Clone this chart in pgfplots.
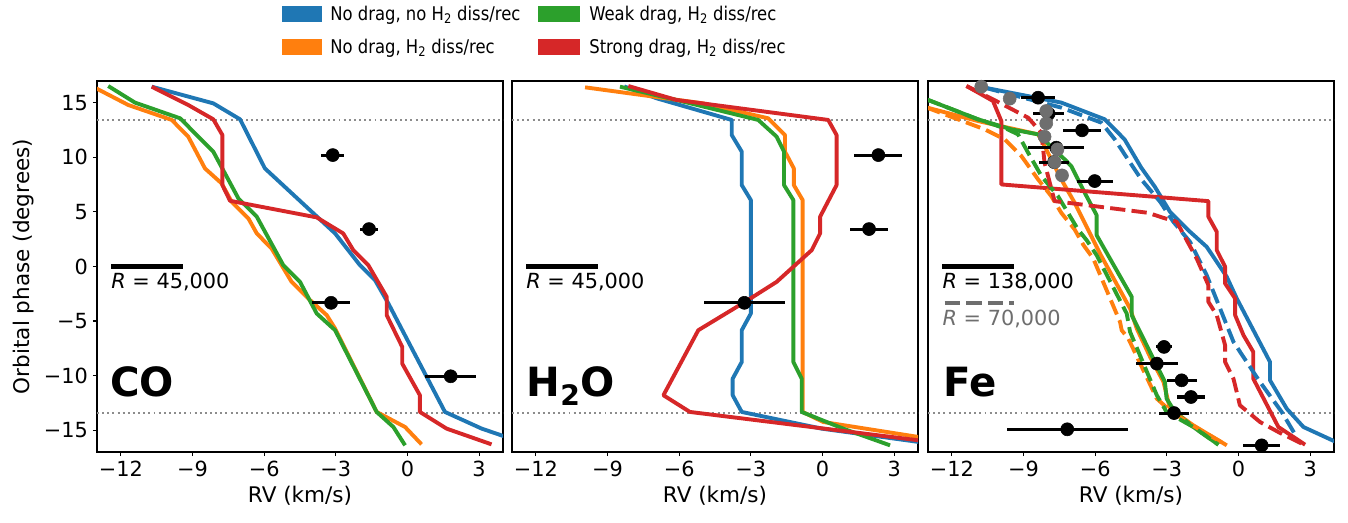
\documentclass[border=0pt]{standalone}
\usepackage{fontspec}
\setmainfont{DejaVu Sans}
\usepackage{graphicx}
\usepackage{pgfplots}
\pgfplotsset{compat=1.18}

\definecolor{tblue}{HTML}{1F77B4}
\definecolor{torange}{HTML}{FF7F0E}
\definecolor{tgreen}{HTML}{2CA02C}
\definecolor{tred}{HTML}{D62728}
\definecolor{tgrey}{HTML}{6E6E6E}
\definecolor{dotgrey}{HTML}{8C8C8C}

% legend text is a little narrower than the rest
\newcommand{\legtxt}[1]{\scalebox{0.87}[1]{#1}}

\pgfplotsset{
  panel/.style={
    at={(#1,51.12pt)}, anchor=south west,
    scale only axis, width=292.32pt, height=267.12pt,
    xmin=-13, xmax=4, ymin=-17, ymax=17,
    xtick={-12,-9,-6,-3,0,3},
    xticklabels={−12,−9,−6,−3,0,3},
    tick align=outside, tick pos=left,
    major tick length=3pt,
    tick style={black, line width=0.8pt},
    axis line style={line width=0.8pt},
    ticklabel style={font=\fontsize{15}{18}\selectfont},
    xlabel={RV (km/s)},
    label style={font=\fontsize{15.5}{18}\selectfont},
  },
  crv/.style={line width=2.8pt, line join=round, #1},
  dsh/.style={line width=2.8pt, line join=round, dash pattern=on 11pt off 4.5pt, #1},
  obs/.style={only marks, mark=*, mark size=4.7pt, color=black,
    error bars/.cd, x dir=both, x explicit,
    error mark=none, error bar style={line width=2.2pt, black}},
  sep/.style={dotgrey, line width=1.3pt, dash pattern=on 1.4pt off 2.3pt, forget plot},
}
\tikzset{
  tag/.style={anchor=base west, inner sep=0pt, font=\fontsize{29}{34}\selectfont\bfseries},
  rnote/.style={anchor=base west, inner sep=0pt, font=\fontsize{15}{18}\selectfont},
  legtext/.style={anchor=base west, inner sep=0pt, font=\fontsize{13.6}{16}\selectfont},
}

\begin{document}
\begin{tikzpicture}
\useasboundingbox (0,0) rectangle (970.56pt,376.56pt);

% ---------------- CO
\begin{axis}[panel=69.84pt,
  ytick={-15,-10,-5,0,5,10,15},
  yticklabels={−15,−10,−5,0,5,10,15},
  ylabel={Orbital phase (degrees)}]
\addplot[sep] coordinates {(-13,13.4) (4,13.4)};
\addplot[sep] coordinates {(-13,-13.4) (4,-13.4)};
\addplot[crv=tblue] coordinates {(-10.71,16.48) (-8.13,14.95) (-7.01,13.49) (-5.97,8.99) (-3.03,3.03) (-1.99,0.12) (-1.36,-1.25) (-0.80,-3.39) (1.57,-13.33) (3.11,-14.86) (4.1,-15.6)};
\addplot[crv=torange] coordinates {(-13.1,16.4) (-11.69,14.80) (-9.87,13.43) (-9.18,11.90) (-8.48,8.99) (-7.78,7.61) (-7.36,5.93) (-6.66,4.40) (-6.31,3.03) (-5.69,1.65) (-4.85,-1.41) (-4.15,-2.94) (-3.38,-4.46) (-3.03,-5.69) (-1.29,-13.33) (-0.1,-14.71) (0.59,-16.30)};
\addplot[crv=tgreen] coordinates {(-12.53,16.54) (-11.41,15.02) (-9.52,13.58) (-8.13,10.52) (-7.08,6.24) (-6.31,4.56) (-5.2,0.12) (-4.5,-1.41) (-3.8,-4.31) (-3.03,-5.84) (-1.29,-13.33) (-0.59,-14.71) (-0.1,-16.39)};
\addplot[crv=tred] coordinates {(-10.71,16.48) (-9.18,14.80) (-8.13,13.49) (-7.75,12.05) (-7.75,7.46) (-7.43,6.02) (-3.8,4.50) (-2.69,3.03) (-2.27,1.5) (-1.64,0.12) (-0.87,-2.78) (-0.87,-4.46) (-0.22,-7.37) (-0.22,-8.9) (0.52,-11.80) (0.52,-13.33) (1.64,-14.86) (3.52,-16.30)};
\addplot[forget plot, obs] coordinates {(-3.13,10.21) +- (0.49,0) (-1.61,3.43) +- (0.38,0) (-3.2,-3.33) +- (0.8,0) (1.81,-10.06) +- (1.08,0)};
\draw[line width=3pt] (axis cs:-12.41,0) -- (axis cs:-9.41,0);
\node[rnote] at (axis cs:-12.41,-2.02) {\textit{R} = 45,000};
\node[tag] at (axis cs:-12.46,-11.9) {CO};
\end{axis}

% ---------------- H2O
\begin{axis}[panel=368.64pt, ytick=\empty]
\addplot[sep] coordinates {(-13,13.4) (4,13.4)};
\addplot[sep] coordinates {(-13,-13.4) (4,-13.4)};
\addplot[crv=tblue] coordinates {(-8.3,16.5) (-6.94,15.41) (-3.8,13.43) (-3.8,12.05) (-3.38,10.52) (-3.38,7.46) (-3.0,6.09) (-3.0,-4.31) (-3.38,-5.84) (-3.38,-8.75) (-3.76,-10.28) (-3.76,-11.80) (-3.38,-13.33) (-0.03,-14.86) (4.1,-16.1)};
\addplot[crv=torange] coordinates {(-9.94,16.42) (-5.0,14.95) (-2.27,13.58) (-1.57,12.05) (-1.57,10.52) (-1.2,8.99) (-1.2,7.46) (-0.83,6.09) (-0.83,-13.33) (0.03,-14.25) (4.1,-15.65)};
\addplot[crv=tgreen] coordinates {(-8.48,16.48) (-6.0,15.2) (-2.69,13.43) (-1.92,11.90) (-1.61,10.52) (-1.61,7.46) (-1.22,6.09) (-1.22,-8.75) (-0.87,-10.28) (-0.87,-13.33) (0.87,-14.86) (2.83,-16.39)};
\addplot[crv=tred] coordinates {(-8.13,16.54) (-6.11,15.26) (0.24,13.43) (0.59,12.05) (0.59,7.46) (-0.1,4.56) (-0.1,3.03) (-0.45,1.50) (-1.92,-1.41) (-3.24,-3.24) (-5.2,-5.84) (-6.66,-11.80) (-5.55,-13.33) (4.1,-15.95)};
\addplot[forget plot, obs] coordinates {(2.34,10.21) +- (1.0,0) (1.95,3.43) +- (0.8,0) (-3.27,-3.33) +- (1.7,0)};
\draw[line width=3pt] (axis cs:-12.41,0) -- (axis cs:-9.41,0);
\node[rnote] at (axis cs:-12.41,-2.02) {\textit{R} = 45,000};
\node[tag] at (axis cs:-12.4,-11.9) {H\textsubscript{2}O};
\end{axis}

% ---------------- Fe
\begin{axis}[panel=668.16pt, ytick=\empty]
\addplot[sep] coordinates {(-13,13.4) (4,13.4)};
\addplot[sep] coordinates {(-13,-13.4) (4,-13.4)};
\addplot[crv=tblue] coordinates {(-10.63,16.39) (-7.42,15.02) (-5.6,13.49) (-4.77,11.65) (-4.07,9.05) (-3.5,7.3) (-2.87,5.02) (-2.03,3.18) (-1.33,1.8) (-0.49,-0.95) (-0.07,-2.94) (1.32,-8.75) (1.32,-10.43) (2.02,-13.03) (2.72,-14.71) (4.1,-16.1)};
\addplot[crv=torange] coordinates {(-13.1,14.6) (-10.91,13.33) (-8.39,12.11) (-8.12,11.04) (-7.42,7.98) (-6.86,5.84) (-5.8,1.19) (-4.54,-3.85) (-4.26,-5.69) (-3.7,-8.29) (-3.14,-10.58) (-2.87,-13.03) (-1.89,-14.56) (-0.49,-16.39)};
\addplot[crv=tgreen] coordinates {(-13.1,15.35) (-10.91,13.49) (-9.51,12.57) (-8.39,12.11) (-7.28,9.82) (-7.0,9.2) (-6.44,6.76) (-5.94,4.71) (-5.94,2.87) (-4.47,-2.78) (-4.47,-4.46) (-3.08,-10.58) (-3.01,-12.11) (-2.66,-13.33) (-1.89,-14.71) (-0.84,-16.33)};
\addplot[crv=tred] coordinates {(-11.39,16.54) (-10.28,15.17) (-9.93,13.33) (-9.93,7.52) (-1.26,5.99) (-1.26,4.56) (-0.91,3.18) (-0.91,1.5) (-0.56,-0.03) (-0.56,-1.56) (-0.14,-2.94) (-0.14,-4.46) (0.21,-6.30) (0.62,-7.83) (0.62,-10.28) (1.67,-14.71) (2.79,-16.33)};
\addplot[dsh=tblue] coordinates {(-10.63,16.39) (-7.42,14.56) (-5.74,13.18) (-5.18,11.65) (-4.63,9.82) (-4.07,7.98) (-3.28,5.93) (-2.73,4.1) (-2.03,2.26) (-1.33,-0.80) (-0.21,-6.91) (0.9,-10.58) (1.81,-13.33) (2.4,-15.5)};
\addplot[dsh=torange] coordinates {(-13.1,14.6) (-10.63,12.57) (-9.79,11.65) (-9.09,10.12) (-8.39,7.98) (-7.84,6.45) (-7.42,4.92) (-6.86,3.39) (-6.49,1.96) (-6.08,0.73) (-4.96,-5.08) (-4.89,-5.84) (-4.61,-6.61) (-3.42,-12.11) (-2.87,-13.2) (-1.89,-14.6) (-0.49,-16.39)};
\addplot[dsh=tgreen] coordinates {(-13.1,15.35) (-10.91,13.49) (-9.7,12.6) (-9.23,12.11) (-8.81,10.43) (-8.25,8.29) (-7.56,6.45) (-7.14,4.92) (-6.72,3.39) (-6.36,2.42) (-5.94,1.04) (-4.68,-4.31) (-4.54,-5.99) (-3.42,-11.8) (-3.01,-13.33) (-1.89,-14.71) (-0.84,-16.33)};
\addplot[dsh=tred] coordinates {(-11.39,16.54) (-10.28,15.32) (-8.81,13.64) (-8.25,12.26) (-8.12,9.51) (-7.7,5.99) (-3.79,4.92) (-3.15,4.46) (-2.59,4.1) (-1.75,0.73) (-1.26,-1.71) (-1.26,-3.24) (-0.91,-4.46) (-0.56,-7.22) (-0.56,-8.75) (-0.21,-10.28) (0.06,-12.72) (0.9,-14.25) (1.67,-15.17) (2.79,-16.39)};
\addplot[forget plot, obs] coordinates {(-8.39,15.47) +- (0.70,0) (-7.95,14.0) +- (0.66,0) (-6.55,12.48) +- (0.78,0) (-7.63,10.89) +- (1.17,0) (-7.72,9.57) +- (0.63,0) (-6.02,7.83) +- (0.75,0) (-3.12,-7.37) +- (0.35,0) (-3.42,-8.9) +- (0.87,0) (-2.38,-10.43) +- (0.63,0) (-1.99,-11.96) +- (0.59,0) (-2.7,-13.43) +- (0.61,0) (-7.17,-14.92) +- (2.53,0) (0.97,-16.39) +- (0.77,0)};
\addplot[only marks, mark=*, mark size=4.7pt, color=tgrey] coordinates {(-10.77,16.48) (-9.58,15.38) (-8.05,14.25) (-8.05,13.12) (-8.12,11.9) (-7.58,10.73) (-7.7,9.57) (-7.39,8.35)};
\draw[line width=3pt] (axis cs:-12.4,0) -- (axis cs:-9.39,0);
\node[rnote] at (axis cs:-12.4,-2.02) {\textit{R} = 138,000};
\draw[tgrey, line width=3pt, dash pattern=on 11pt off 4.5pt] (axis cs:-12.3,-3.33) -- (axis cs:-9.4,-3.33);
\node[rnote, text=tgrey] at (axis cs:-12.4,-5.38) {\textit{R} = 70,000};
\node[tag] at (axis cs:-12.36,-11.9) {Fe};
\end{axis}

% ---------------- legend (two columns above the panels)
\fill[tblue]   (203.0pt,360.5pt) rectangle (231.8pt,372.2pt);
\fill[torange] (203.0pt,336.6pt) rectangle (231.8pt,348.3pt);
\fill[tgreen]  (387.4pt,360.5pt) rectangle (417.6pt,372.2pt);
\fill[tred]    (387.4pt,336.6pt) rectangle (417.6pt,348.3pt);
\node[legtext] at (237.6pt,361.7pt) {\legtxt{No drag, no H\textsubscript{2} diss/rec}};
\node[legtext] at (237.6pt,337.8pt) {\legtxt{No drag, H\textsubscript{2} diss/rec}};
\node[legtext] at (424.1pt,361.7pt) {\legtxt{Weak drag, H\textsubscript{2} diss/rec}};
\node[legtext] at (424.1pt,337.8pt) {\legtxt{Strong drag, H\textsubscript{2} diss/rec}};
\end{tikzpicture}
\end{document}
